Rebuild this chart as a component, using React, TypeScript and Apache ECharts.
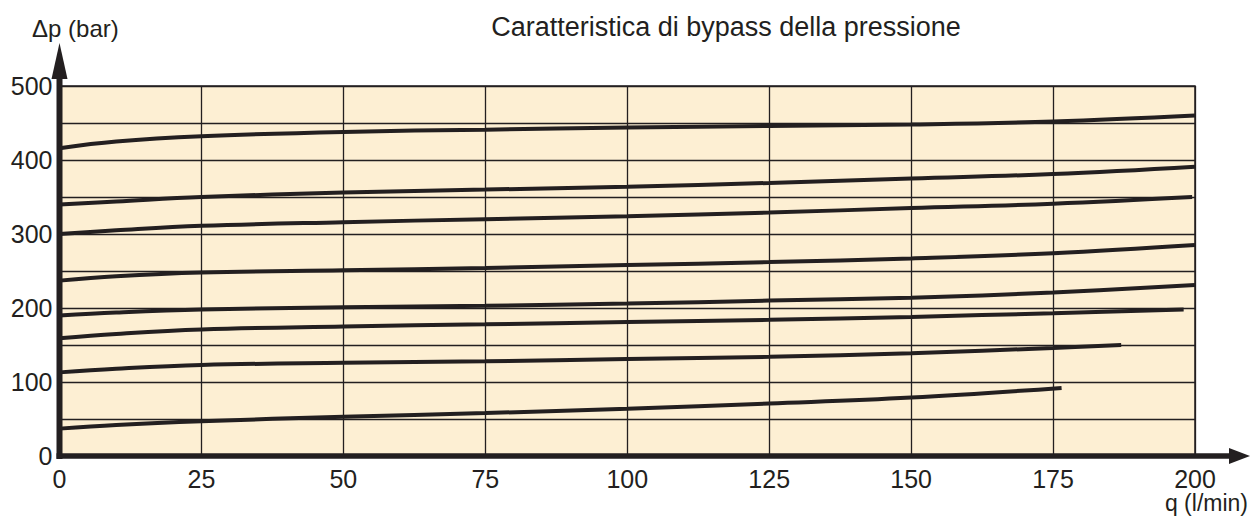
import React, { useEffect, useRef } from "react";
import * as echarts from "echarts";

const xTicks = [0, 25, 50, 75, 100, 125, 150, 175, 200];
const yTicks = [0, 100, 200, 300, 400, 500];

const curve1: [number, number][] = [[0, 416], [10, 425], [25, 432], [50, 438], [75, 441], [100, 444], [125, 446], [150, 448], [175, 452], [200, 460]];
const curve2: [number, number][] = [[0, 340], [10, 344], [25, 350], [50, 356], [75, 360], [100, 364], [125, 369], [150, 375], [175, 381], [200, 391]];
const curve3: [number, number][] = [[0, 300], [10, 305], [25, 311], [50, 316], [75, 320], [100, 324], [125, 329], [150, 335], [175, 341], [199.5, 350]];
const curve4: [number, number][] = [[0, 237], [10, 243], [25, 248], [50, 251], [75, 254], [100, 258], [125, 262], [150, 267], [175, 274], [200, 285]];
const curve5: [number, number][] = [[0, 190], [10, 194], [25, 198], [50, 201], [75, 203], [100, 206], [125, 210], [150, 214], [175, 221], [200, 231]];
const curve6: [number, number][] = [[0, 159], [10, 165], [25, 171], [50, 175], [75, 178], [100, 181], [125, 184], [150, 188], [175, 193], [198, 198]];
const curve7: [number, number][] = [[0, 113], [10, 118], [25, 123], [50, 126], [75, 128], [100, 131], [125, 134], [150, 139], [175, 146], [187, 150]];
const curve8: [number, number][] = [[0, 37], [10, 42], [25, 47], [50, 53], [75, 58], [100, 64], [125, 71], [150, 79], [176.5, 92]];

const curves = [curve1, curve2, curve3, curve4, curve5, curve6, curve7, curve8];

const titleText = "Caratteristica di bypass della pressione";
const yName = "\u0394p (bar)";
const xName = "q (l/min)";

const INK = "#231f20";
const FONT = "'Liberation Sans', Arial, Helvetica, sans-serif";

export default function App() {
  const ref = useRef<HTMLDivElement>(null);
  useEffect(() => {
    document.body.style.margin = "0";
    const chart = echarts.init(ref.current!, null, { renderer: "svg" });
    const option: any = {
      animation: false,
      backgroundColor: "#ffffff",
      grid: {
        left: 59.5,
        right: 56,
        top: 86,
        bottom: 61,
        show: true,
        backgroundColor: "#fdefd3",
        borderColor: INK,
        borderWidth: 1.5,
      },
      xAxis: {
        type: "value",
        min: xTicks[0],
        max: xTicks[xTicks.length - 1],
        interval: 25,
        axisLine: { show: false },
        axisTick: { show: false },
        axisLabel: {
          color: INK,
          fontSize: 25,
          fontFamily: FONT,
          margin: 10,
          formatter: (v: number) => (xTicks.includes(v) ? String(v) : ""),
        },
        splitLine: { show: true, lineStyle: { color: INK, width: 1.3 } },
      },
      yAxis: {
        type: "value",
        min: 0,
        max: 500,
        interval: 50,
        axisLine: { show: false },
        axisTick: { show: false },
        axisLabel: {
          color: INK,
          fontSize: 25,
          fontFamily: FONT,
          margin: 7,
          formatter: (v: number) => (yTicks.includes(v) ? String(v) : ""),
        },
        splitLine: { show: true, lineStyle: { color: INK, width: 1.3 } },
      },
      series: curves.map((c, i) => ({
        type: "line",
        name: "c" + i,
        data: c,
        smooth: 0.4,
        showSymbol: false,
        symbol: "none",
        lineStyle: { color: INK, width: 4 },
        z: 5,
      })),
    };
    chart.setOption(option);

    const o = chart.convertToPixel({ gridIndex: 0 }, [0, 0]) as number[];
    const xe = chart.convertToPixel({ gridIndex: 0 }, [200, 0]) as number[];
    const ye = chart.convertToPixel({ gridIndex: 0 }, [0, 500]) as number[];
    const yTip = ye[1] - 43;
    const xTip = xe[0] + 55;
    chart.setOption({
      graphic: [
        {
          type: "line",
          shape: { x1: o[0], y1: o[1] + 3, x2: o[0], y2: yTip + 20 },
          style: { stroke: INK, lineWidth: 6 },
          z: 10,
        },
        {
          type: "polygon",
          shape: { points: [[o[0], yTip], [o[0] - 8, yTip + 36], [o[0] + 8, yTip + 36]] },
          style: { fill: INK },
          z: 10,
        },
        {
          type: "line",
          shape: { x1: o[0] - 3, y1: o[1], x2: xTip - 10, y2: o[1] },
          style: { stroke: INK, lineWidth: 5.5 },
          z: 10,
        },
        {
          type: "polygon",
          shape: { points: [[xTip, o[1]], [xTip - 21, o[1] - 8], [xTip - 21, o[1] + 8]] },
          style: { fill: INK },
          z: 10,
        },
        {
          type: "text",
          x: 726,
          y: 27,
          style: { text: titleText, fill: INK, font: `27px ${FONT}`, textAlign: "center", textVerticalAlign: "middle" },
        },
        {
          type: "text",
          x: 32,
          y: 28,
          style: { text: yName, fill: INK, font: `24px ${FONT}`, textAlign: "left", textVerticalAlign: "middle" },
        },
        {
          type: "text",
          x: 1248,
          y: 503,
          style: { text: xName, fill: INK, font: `23px ${FONT}`, textAlign: "right", textVerticalAlign: "middle" },
        },
      ],
    });
    return () => chart.dispose();
  }, []);
  return <div ref={ref} style={{ width: 1251, height: 517 }} />;
}
